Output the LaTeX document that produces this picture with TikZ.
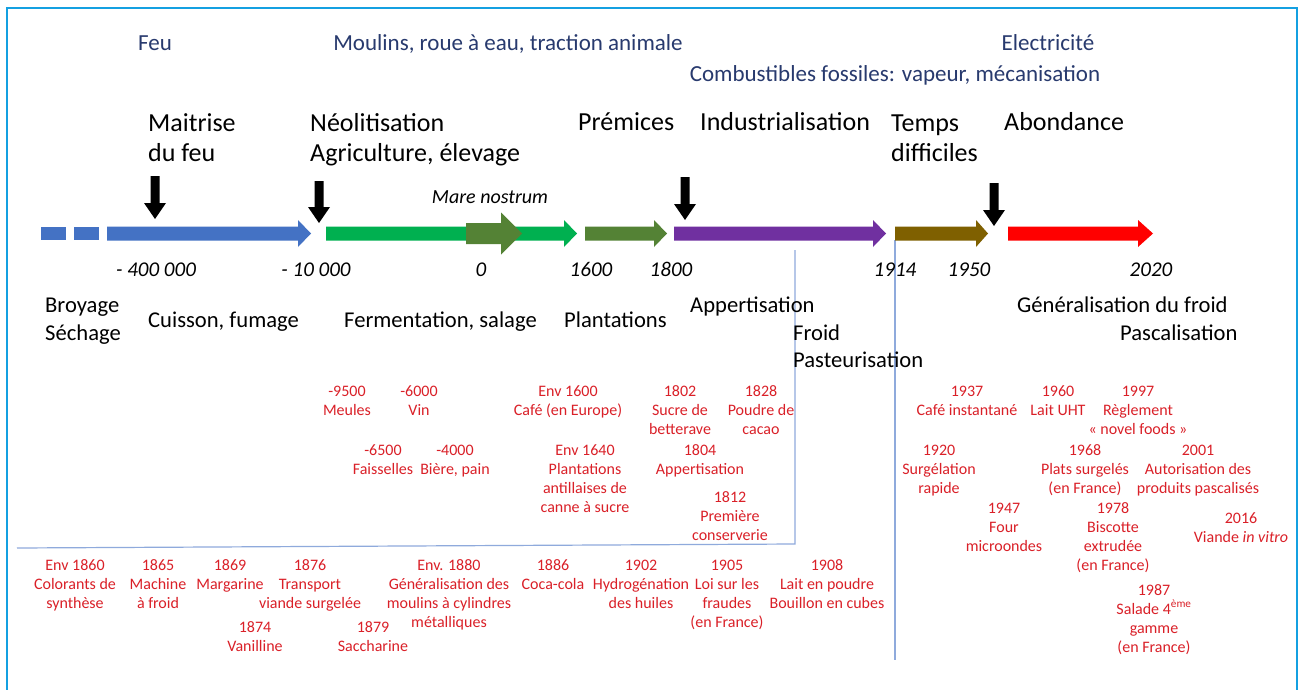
\documentclass[tikz,border=0pt]{standalone}
\usepackage{fontspec}
\setmainfont{Carlito}
\definecolor{navy}{RGB}{40,58,110}
\definecolor{evred}{RGB}{218,32,40}
\definecolor{frame}{RGB}{20,160,225}
\definecolor{thin}{RGB}{143,170,220}
\definecolor{cblue}{RGB}{68,114,196}
\definecolor{cgreen}{RGB}{0,176,80}
\definecolor{cdkgreen}{RGB}{84,130,53}
\definecolor{cpurple}{RGB}{112,48,160}
\definecolor{cbrown}{RGB}{127,96,0}
\definecolor{cred}{RGB}{255,0,0}
% block arrow: x1, head start, tip, y centre, half shaft, half head, colour
\newcommand\blockarrow[7]{%
  \fill[#7] ({#1},{#4-#5}) -- ({#2},{#4-#5}) -- ({#2},{#4-#6}) -- ({#3},{#4})
    -- ({#2},{#4+#6}) -- ({#2},{#4+#5}) -- ({#1},{#4+#5}) -- cycle;}
% down arrow: x, top, tip
\newcommand\downarrowblk[3]{%
  \fill[black] ({#1-4.5},{#2}) -- ({#1+4.5},{#2}) -- ({#1+4.5},{#3-16}) -- ({#1+11},{#3-16})
    -- ({#1},{#3}) -- ({#1-11},{#3-16}) -- ({#1-4.5},{#3-16}) -- cycle;}
\tikzset{
  toptxt/.style={font=\fontsize{23}{26}\selectfont, text=navy, inner sep=0, anchor=base},
  headtxt/.style={font=\fontsize{26}{30}\selectfont, align=left, anchor=base west, inner sep=0},
  labtxt/.style={font=\fontsize{22.6}{28}\selectfont, anchor=base west, inner sep=0},
  yeartxt/.style={font=\fontsize{21}{24}\selectfont\itshape, anchor=base, inner sep=0},
  evtxt/.style={font=\fontsize{16}{19}\selectfont, text=evred, align=center, anchor=base, inner sep=0},
  thinline/.style={draw=thin, line width=1.2pt}
}
\begin{document}
\begin{tikzpicture}[x=1pt,y=-1pt]
\useasboundingbox (0,0) rectangle (1298,690);
\fill[white] (0,0) rectangle (1298,690);
\draw[frame, line width=2pt] (6.5,700) -- (6.5,8.5) -- (1296.5,8.5) -- (1296.5,700);

% thin separator lines
\coordinate (v1t) at (795,250);
\coordinate (v1b) at (795,544);
\coordinate (h1l) at (17,548);
\coordinate (v2t) at (895,240);
\coordinate (v2b) at (895,660);
\draw[thinline] (h1l) -- (v1b) -- (v1t);
\draw[thinline] (v2t) -- (v2b);

% timeline arrows
\fill[cblue] (41,227) rectangle (66,240);
\fill[cblue] (74,227) rectangle (99,240);
\blockarrow{107}{298}{311}{233.5}{7}{13.5}{cblue}
\blockarrow{326}{564}{577}{233.5}{7}{13.5}{cgreen}
\blockarrow{466}{501}{522}{233.5}{10.5}{21}{cdkgreen}
\blockarrow{585}{654}{667}{233.5}{7}{13.5}{cdkgreen}
\blockarrow{674}{873}{886}{233.5}{7}{13.5}{cpurple}
\blockarrow{895}{976}{988}{233.5}{7}{13.5}{cbrown}
\blockarrow{1008}{1138}{1153}{233.5}{7}{13.5}{cred}

\downarrowblk{155}{176}{219}
\downarrowblk{319}{181}{223}
\downarrowblk{685}{177}{220}
\downarrowblk{994}{183}{226}

% top (energy)
\node[toptxt] (feu) at (155,51) {Feu};
\node[toptxt] (moulins) at (508,51) {Moulins, roue à eau, traction animale};
\node[toptxt] (elec) at (1048,51) {Electricité};
\node[toptxt] (fossiles) at (895,82) {Combustibles fossiles: vapeur, mécanisation};

% periods
\node[headtxt] (maitrise) at (148,161) {Maitrise\\du feu};
\node[headtxt] (neo) at (310,161) {Néolitisation\\Agriculture, élevage};
\node[headtxt] (premices) at (578,131) {Prémices};
\node[headtxt] (indus) at (700,131) {Industrialisation};
\node[headtxt] (temps) at (891,161) {Temps\\difficiles};
\node[headtxt] (abond) at (1004,131) {Abondance};

\node[font=\fontsize{20}{22}\selectfont\itshape, inner sep=0, anchor=base] (mare) at (490,203) {Mare nostrum};

% years
\node[yeartxt] (y1) at (156,276) {- 400 000};
\node[yeartxt] (y2) at (316,276) {- 10 000};
\node[yeartxt] (y3) at (481,276) {0};
\node[yeartxt] (y4) at (591,276) {1600};
\node[yeartxt] (y5) at (671,276) {1800};
\node[yeartxt] (y6) at (895,276) {1914};
\node[yeartxt] (y7) at (969,276) {1950};
\node[yeartxt] (y8) at (1151,276) {2020};

% techniques
\node[labtxt] (broyage) at (45,312) {Broyage};
\node[labtxt] (sechage) at (45,340) {Séchage};
\node[labtxt] (cuisson) at (148,327) {Cuisson, fumage};
\node[labtxt] (ferment) at (344,327) {Fermentation, salage};
\node[labtxt] (plant) at (564,327) {Plantations};
\node[labtxt] (appert) at (690,312) {Appertisation};
\node[labtxt] (froid) at (793,340) {Froid};
\node[labtxt] (pasteur) at (793,367) {Pasteurisation};
\node[labtxt] (genfroid) at (1017,312) {Généralisation du froid};
\node[labtxt] (pascal) at (1120,340) {Pascalisation};

% events before 1914 (upper block); base anchor = last line
\node[evtxt] (e9500) at (347,415) {-9500\\Meules};
\node[evtxt] (e6000) at (419,415) {-6000\\Vin};
\node[evtxt] (e6500) at (383,474) {-6500\\Faisselles};
\node[evtxt] (e4000) at (455,474) {-4000\\Bière, pain};
\node[evtxt] (e1600) at (568,415) {Env 1600\\Café (en Europe)};
\node[evtxt] (e1640) at (585,512) {Env 1640\\Plantations\\antillaises de\\canne à sucre};
\node[evtxt] (e1802) at (680,434) {1802\\Sucre de\\betterave};
\node[evtxt] (e1828) at (761,434) {1828\\Poudre de\\cacao};
\node[evtxt] (e1804) at (700,474) {1804\\Appertisation};
\node[evtxt] (e1812) at (730,540) {1812\\Première\\conserverie};

% events 1860-1914 (lower block)
\node[evtxt] (e1860) at (75,608) {Env 1860\\Colorants de\\synthèse};
\node[evtxt] (e1865) at (158,608) {1865\\Machine\\à froid};
\node[evtxt] (e1869) at (230,589) {1869\\Margarine};
\node[evtxt] (e1876) at (310,608) {1876\\Transport\\viande surgelée};
\node[evtxt] (e1874) at (255,651) {1874\\Vanilline};
\node[evtxt] (e1879) at (373,651) {1879\\Saccharine};
\node[evtxt] (e1880) at (449,627) {Env. 1880\\Généralisation des\\moulins à cylindres\\métalliques};
\node[evtxt] (e1886) at (553,589) {1886\\Coca-cola};
\node[evtxt] (e1902) at (641,608) {1902\\Hydrogénation\\des huiles};
\node[evtxt] (e1905) at (727,627) {1905\\Loi sur les\\fraudes\\(en France)};
\node[evtxt] (e1908) at (827,608) {1908\\Lait en poudre\\Bouillon en cubes};

% events after 1914
\node[evtxt] (e1937) at (967,415) {1937\\Café instantané};
\node[evtxt] (e1960) at (1058,415) {1960\\Lait UHT};
\node[evtxt] (e1997) at (1138,434) {1997\\Règlement\\« novel foods »};
\node[evtxt] (e1920) at (939,493) {1920\\Surgélation\\rapide};
\node[evtxt] (e1968) at (1085,493) {1968\\Plats surgelés\\(en France)};
\node[evtxt] (e2001) at (1198,493) {2001\\Autorisation des\\produits pascalisés};
\node[evtxt] (e1947) at (1004,551) {1947\\Four\\microondes};
\node[evtxt] (e1978) at (1113,570) {1978\\Biscotte\\extrudée\\(en France)};
\node[evtxt] (e2016) at (1241,542) {2016\\Viande \textit{in vitro}};
\node[evtxt] (e1987) at (1154,652) {1987\\Salade 4\textsuperscript{ème}\\gamme\\(en France)};
\end{tikzpicture}
\end{document}
